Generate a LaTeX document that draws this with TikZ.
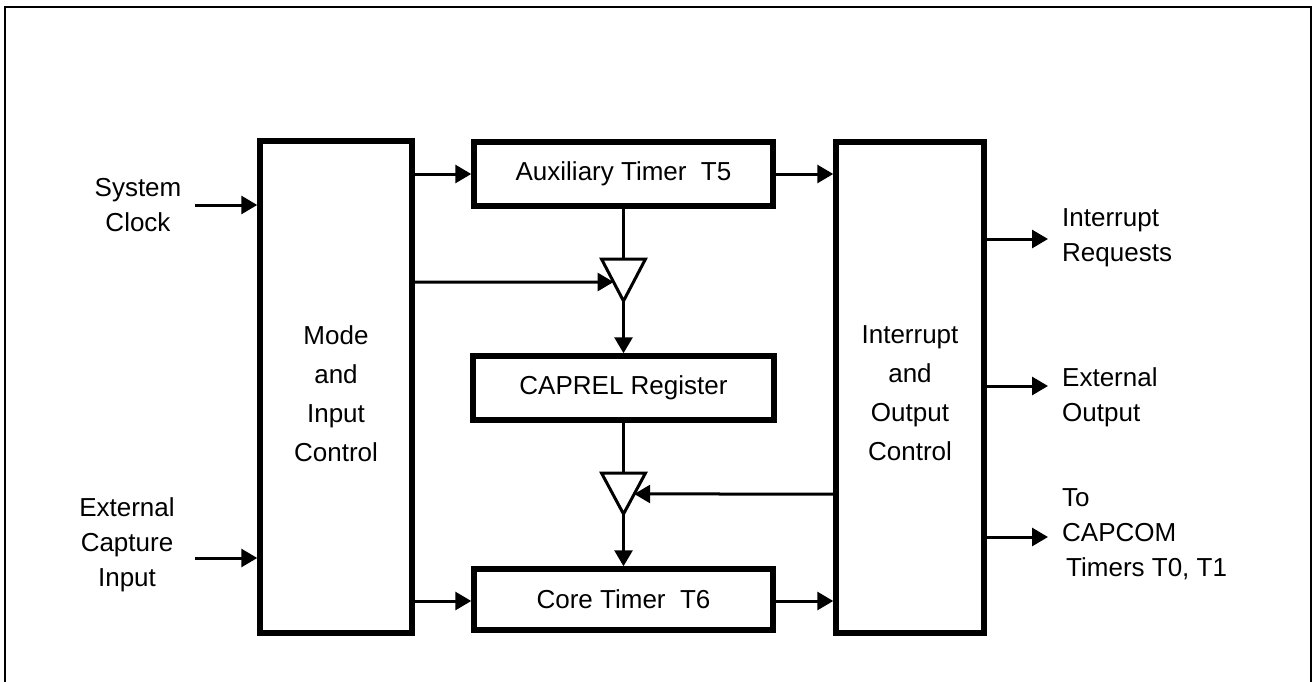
\documentclass[tikz,border=0pt]{standalone}
\usepackage{fontspec}
\setmainfont{Liberation Sans}
\usetikzlibrary{arrows.meta,calc}
\begin{document}
\begin{tikzpicture}[x=1pt,y=-1pt,
  conn/.style={line width=3pt,-{Triangle[length=16pt 0 0,width=18pt 0 0]}},
  wire/.style={line width=3pt},
  lbl/.style={font=\fontsize{26}{35}\selectfont,align=center,inner sep=0pt},
  blk/.style={draw,line width=5.5pt,inner sep=0pt,font=\fontsize{26}{31}\selectfont}]
\useasboundingbox (0,0) rectangle (1314,682);
\draw[line width=2pt] (5,700) -- (5,7) -- (1311,7) -- (1311,700);

% blocks
\node[blk,minimum width=152pt,minimum height=492pt] (mode) at (336,387) {};
\node[blk,minimum width=148pt,minimum height=491pt] (intr) at (910,387.5) {};
\node[blk,minimum width=299pt,minimum height=64pt] (aux) at (623.5,174) {Auxiliary Timer~~T5};
\node[blk,minimum width=301pt,minimum height=64pt] (cap) at (623.5,388) {CAPREL Register};
\node[blk,minimum width=299pt,minimum height=61pt] (core) at (623.5,599.5) {Core Timer~~T6};

\node[lbl,font=\fontsize{26}{39}\selectfont] (modetxt) at (336,393.5) {Mode\\and\\Input\\Control};
\node[lbl,font=\fontsize{26}{39}\selectfont] (intrtxt) at (910,393.5) {Interrupt\\and\\Output\\Control};

% triangles
\coordinate (t1l) at (601.5,259);
\coordinate (t1r) at (645.5,259);
\coordinate (t1b) at (623.5,301);
\coordinate (t1t) at (623.5,259);
\coordinate (t2l) at (601.5,473);
\coordinate (t2r) at (645.5,473);
\coordinate (t2b) at (623.5,514);
\coordinate (t2t) at (623.5,473);
\draw[wire,line join=miter] (t1l) -- (t1r) -- (t1b) -- cycle;
\draw[wire,line join=miter] (t2l) -- (t2r) -- (t2b) -- cycle;

% helper levels
\coordinate (ya) at (0,174);
\coordinate (yt1) at (0,282);
\coordinate (yt2) at (0,494);
\coordinate (yc) at (0,601);

% connectors in the middle
\draw[conn] (mode.east |- ya) -- (aux.west);
\draw[conn] (aux.east) -- (aux.east -| intr.west);
\draw[wire] (aux.south) -- (t1t);
\draw[conn] (t1b) -- (cap.north);
\draw[conn] (mode.east |- yt1) -- ($(t1l)!0.548!(t1b)$);
\draw[wire] (cap.south) -- (t2t);
\draw[conn] (t2b) -- (core.north);
\draw[conn] (intr.west |- yt2) -- ($(t2r)!0.512!(t2b)$);
\draw[conn] (mode.east |- yc) -- (core.west |- yc);
\draw[conn] (core.east |- yc) -- (intr.west |- yc);

% inputs
\coordinate (sc) at (195,205);
\coordinate (ec) at (195,558);
\draw[conn] (sc) -- (sc -| mode.west);
\draw[conn] (ec) -- (ec -| mode.west);
\node[lbl] (sclk) at (138,205) {System\\Clock};
\node[lbl] (ecap) at (127,545) {External\\Capture\\Input};

% outputs
\coordinate (o1) at (1048,239);
\coordinate (o2) at (1048,386);
\coordinate (o3) at (1048,537);
\draw[conn] (intr.east |- o1) -- (o1);
\draw[conn] (intr.east |- o2) -- (o2);
\draw[conn] (intr.east |- o3) -- (o3);
\node[lbl,anchor=west,align=left] (irq) at (1062,238) {Interrupt\\Requests};
\node[lbl,anchor=west,align=left] (eout) at (1062,397) {External\\Output};
\node[lbl,anchor=west,align=left] (capc) at (1062,534) {To\\CAPCOM\\\hspace*{4pt}Timers T0, T1};
\end{tikzpicture}
\end{document}
